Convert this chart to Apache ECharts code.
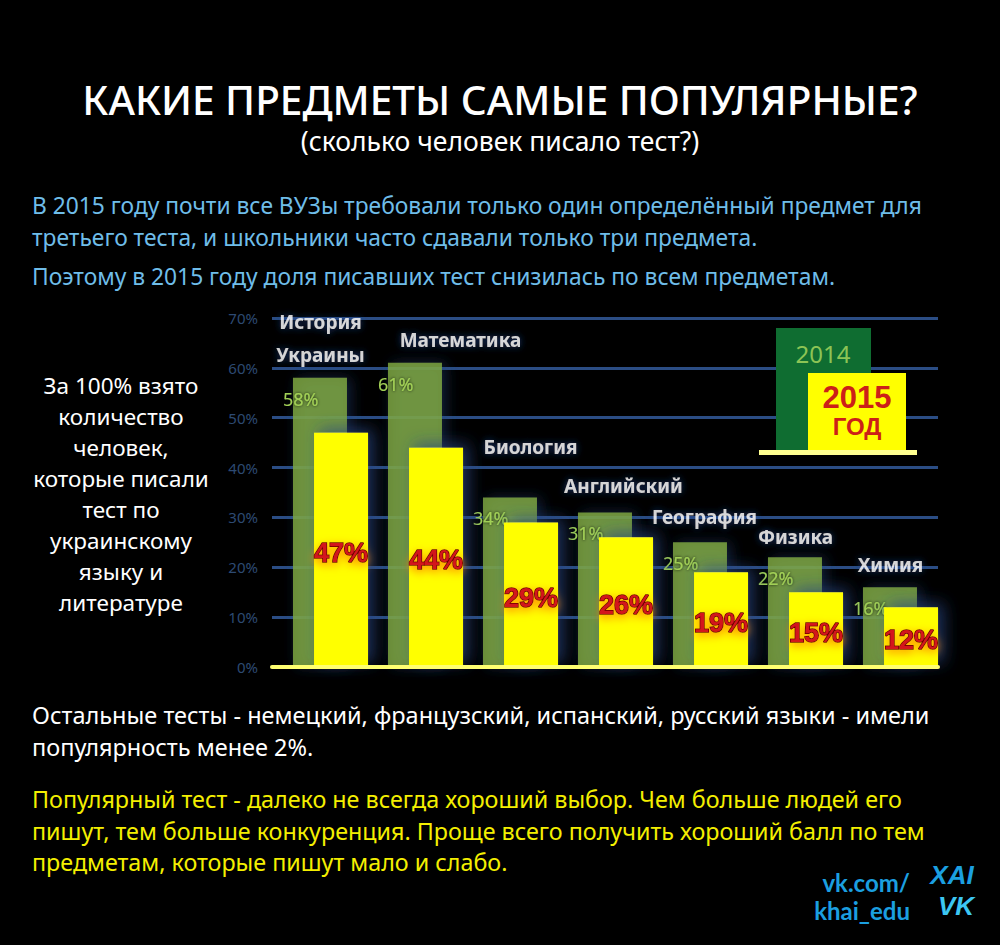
<!DOCTYPE html>
<html><head><meta charset="utf-8">
<script src="https://cdn.jsdelivr.net/npm/echarts@6/dist/echarts.min.js"></script>
<style>html,body{margin:0;padding:0;background:#000;overflow:hidden}#c{width:1000px;height:945px}</style>
</head><body><div id="c"></div>
<script>
// ---- data ----
const categories = ['История\nУкраины', 'Математика', 'Биология', 'Английский', 'География', 'Физика', 'Химия'];
const values2014 = [58, 61, 34, 31, 25, 22, 16];
const values2015 = [47, 44, 29, 26, 19, 15, 12];
const yTickLabels = ['0%', '10%', '20%', '30%', '40%', '50%', '60%', '70%'];
const legendNames = ['2014', '2015\nГОД'];

const titleText = 'КАКИЕ ПРЕДМЕТЫ САМЫЕ ПОПУЛЯРНЫЕ?';
const subtitleText = '(сколько человек писало тест?)';
const introLines = [
  'В 2015 году почти все ВУЗы требовали только один определённый предмет для',
  'третьего теста, и школьники часто сдавали только три предмета.',
  'Поэтому в 2015 году доля писавших тест снизилась по всем предметам.'
];
const noteLines = ['За 100% взято', 'количество', 'человек,', 'которые писали', 'тест по', 'украинскому', 'языку и', 'литературе'];
const otherLines = ['Остальные тесты - немецкий, французский, испанский, русский языки - имели', 'популярность менее 2%.'];
const adviceLines = ['Популярный тест - далеко не всегда хороший выбор. Чем больше людей его', 'пишут, тем больше конкуренция. Проще всего получить хороший балл по тем', 'предметам, которые пишут мало и слабо.'];
const footerLines = ['vk.com/', 'khai_edu'];

// ---- styles (label offsets, not data) ----
const nameLabelOffsets = [[-10, -1], [35, -1], [10, -28], [8, -4], [-6, -3], [-10, 2], [-10, 0]];

const FONT = '"Noto Sans", "Open Sans", sans-serif';
const chart = echarts.init(document.getElementById('c'), null, { renderer: 'svg' });

function textLines(lines, x, y0, step, color, size, align, weight) {
  return lines.map((t, i) => ({
    type: 'text', z: 10,
    style: {
      text: t, x: x, y: y0 + i * step, fill: color,
      font: (weight || 'normal') + ' ' + size + 'px ' + FONT,
      textAlign: align || 'left', textVerticalAlign: 'middle',
      align: align || 'left', verticalAlign: 'middle'
    }
  }));
}
function txt(text, x, y, fill, font, align, z) {
  return { type: 'text', z: z || 10, style: { text, x, y, fill, font,
    textAlign: align || 'center', textVerticalAlign: 'middle', align: align || 'center', verticalAlign: 'middle' } };
}

const graphics = [].concat(
  [
    txt(titleText, 500, 99, '#ffffff', '500 40.5px ' + FONT),
    txt(subtitleText, 500, 141, '#ffffff', 'normal 26.5px ' + FONT)
  ],
  textLines(introLines.slice(0, 2), 32, 205, 32.5, '#6fbde9', 22.8),
  textLines(introLines.slice(2), 32, 276, 32, '#6fbde9', 22.8),
  textLines(noteLines, 121, 385, 31.1, '#ffffff', 22.5, 'center'),
  textLines(otherLines, 32, 715, 32, '#ffffff', 23.5),
  textLines(adviceLines, 32, 799, 31.5, '#f4ef00', 23.3),
  // legend
  [
    { type: 'rect', z: 5, shape: { x: 776, y: 328, width: 95, height: 123 }, style: { fill: '#0f6d31' } },
    { type: 'rect', z: 6, shape: { x: 808, y: 373, width: 98, height: 78 }, style: { fill: '#ffff00' } },
    { type: 'rect', z: 7, shape: { x: 759, y: 450, width: 158, height: 5 }, style: { fill: '#ffff90' } },
    txt(legendNames[0], 823, 353, '#8cc455', 'normal 24px ' + FONT, 'center', 8),
    txt(legendNames[1].split('\n')[0], 857, 397, '#cc2018', 'bold 31px "Liberation Sans", sans-serif', 'center', 8),
    txt(legendNames[1].split('\n')[1], 857, 426, '#cc2018', 'bold 24px "Liberation Sans", sans-serif', 'center', 8)
  ],
  // footer
  [
    txt(footerLines[0], 910, 882, '#1b9fe0', 'bold 24px Lato, ' + FONT, 'right'),
    txt(footerLines[1], 910, 910, '#1b9fe0', 'bold 24px Lato, ' + FONT, 'right'),
    txt('XAI', 952, 875, '#1b9fe0', 'italic bold 26px "Liberation Sans", sans-serif'),
    txt('VK', 956, 906, '#3cc6f2', 'italic bold 26px "Liberation Sans", sans-serif')
  ]
);

const option = {
  backgroundColor: '#000000',
  animation: false,
  grid: [
    { left: 283, right: 52, top: 318, bottom: 278 },
    { left: 272, right: 62, top: 318, bottom: 278 }
  ],
  xAxis: [
    { type: 'category', gridIndex: 0, data: categories, axisLine: { show: false }, axisTick: { show: false }, axisLabel: { show: false } },
    { type: 'category', gridIndex: 1, data: [''], z: 4,
      axisLine: { show: true, lineStyle: { color: '#ffff70', width: 4 } }, axisTick: { show: false }, axisLabel: { show: false } }
  ],
  yAxis: [
    { type: 'value', gridIndex: 0, min: 0, max: 70, interval: 10, axisLabel: { show: false }, splitLine: { show: false }, axisLine: { show: false } },
    { type: 'value', gridIndex: 1, min: 0, max: 70, interval: 10,
      axisLine: { show: false }, axisTick: { show: false },
      axisLabel: { color: '#2d4a72', fontSize: 15, fontFamily: FONT, margin: 14,
        formatter: v => yTickLabels[Math.round(v / 10)] },
      splitLine: { show: true, lineStyle: { color: '#2b4d84', width: 3 } } }
  ],
  series: [
    {
      name: '2014', type: 'bar', data: values2014, barWidth: 54, barGap: '-61%', z: 2,
      itemStyle: { color: 'rgba(126,168,64,0.83)', shadowColor: 'rgba(40,70,130,0.55)', shadowBlur: 14, shadowOffsetX: 4 },
      label: { show: true, position: [-10, 12], formatter: '{c}%', color: '#a2d056', fontSize: 18, fontFamily: FONT,
        textShadowColor: 'rgba(0,0,0,0.8)', textShadowBlur: 3 }
    },
    {
      name: '2015', type: 'bar', data: values2015, barWidth: 54, z: 3,
      itemStyle: { color: '#ffff00', shadowColor: 'rgba(40,70,130,0.7)', shadowBlur: 16, shadowOffsetX: 6, shadowOffsetY: -4 },
      label: { show: true, position: 'inside', offset: [0, 3], formatter: '{c}%', color: '#d3141a',
        fontSize: 27, fontWeight: 'bold', fontFamily: '"Liberation Sans", Arial, sans-serif',
        textBorderColor: '#6a0000', textBorderWidth: 1.5,
        textShadowColor: '#ff8a00', textShadowBlur: 10, textShadowOffsetY: 3 }
    },
    {
      name: 'names', type: 'scatter', symbolSize: 1, z: 6,
      itemStyle: { color: 'rgba(0,0,0,0)' },
      data: values2014.map((v, i) => ({ value: v, label: { offset: nameLabelOffsets[i] } })),
      label: { show: true, position: 'top', distance: 5, formatter: p => categories[p.dataIndex],
        color: '#ffffff', fontSize: 19, fontWeight: 'bold', fontFamily: FONT, lineHeight: 33,
        textShadowColor: '#1d4590', textShadowBlur: 7 }
    }
  ],
  graphic: graphics
};
chart.setOption(option);
</script>
</body></html>
